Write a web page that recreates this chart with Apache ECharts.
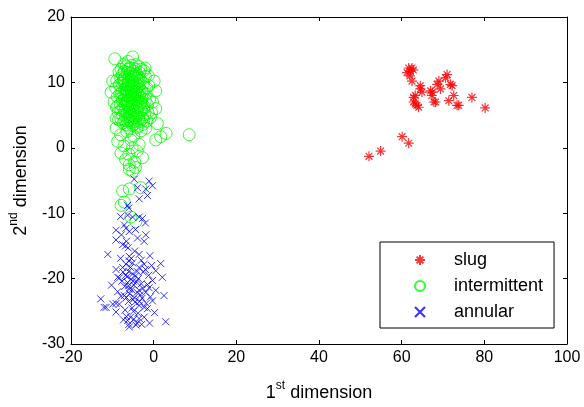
<!DOCTYPE html>
<html>
<head>
<meta charset="utf-8">
<script src="https://cdn.jsdelivr.net/npm/echarts@6/dist/echarts.min.js"></script>
<style>
  html, body { margin: 0; padding: 0; background: #fff; }
  #main { width: 584px; height: 407px; }
</style>
</head>
<body>
<div id="main"></div>
<script>
// axis ticks
var xTicks = { min: -20, max: 100, step: 20 };
var yTicks = { min: -30, max: 20, step: 10 };

var seriesNames = ['slug', 'intermittent', 'annular'];

// slug (red stars)
var slugData = [
  [61.7, 12.2], [62.5, 12.2], [61.3, 11.5], [62.1, 11.7], [62.8, 11.9], [62.0, 11.0],
  [62.5, 10.2], [64.5, 9.5], [64.5, 9.0], [64.9, 8.5], [63.3, 8.0], [62.9, 7.7],
  [62.9, 7.0], [63.3, 6.7], [63.7, 6.5], [64.1, 6.2], [67.0, 8.7], [67.4, 8.5],
  [67.3, 8.0], [67.8, 7.0], [68.2, 7.0], [69.0, 10.2], [68.6, 9.7], [69.4, 9.0],
  [71.0, 11.2], [70.6, 10.7], [71.8, 9.7], [72.2, 9.5], [72.6, 8.0], [71.4, 7.2],
  [73.4, 6.5], [73.8, 6.5], [77.0, 7.7], [80.2, 6.1], [60.1, 1.7], [61.7, 0.7],
  [54.9, -0.5], [52.1, -1.3]
];

// intermittent (green circles)
var intermittentData = [
  [-9.4, 13.6], [-5.1, 13.9], [-6.2, 13.2], [-7.9, 12.0], [-4.3, 12.7], [-7.1, 11.7],
  [-9.9, 10.2], [-10.3, 8.5], [0.1, 10.2], [0.5, 8.7], [0.5, 6.0], [8.6, 2.0],
  [3.0, 2.2], [1.7, 1.7], [0.5, 1.2], [0.9, 3.7], [-8.7, 1.0], [-7.9, -0.8],
  [-2.7, -1.5], [-5.9, -2.6], [-5.9, -3.3], [-9.1, 3.0], [-3.5, 0.5], [-9.1, 4.5],
  [-5.1, -3.6], [-7.5, -6.6], [-5.9, -6.3], [-3.1, -6.1], [-7.1, -8.3], [-7.9, -8.8],
  [-5.5, -10.6], [-4.3, -11.3],
  [-6.5, 2.5], [-4.8, 1.8], [-7.2, 0.3], [-5.2, 0.0], [-4.0, -0.5], [-6.8, -1.8],
  [-4.6, -2.2], [-5.5, 1.2], [-3.0, 2.6], [-8.0, 2.0], [-6.0, -1.0], [-4.4, -3.0],
  [-6.1, 7.2], [-5.4, 8.1], [-4.8, 6.5], [-6.7, 9.0], [-5.9, 10.3], [-4.2, 7.8],
  [-7.3, 6.1], [-3.6, 9.4], [-5.0, 11.2], [-6.4, 5.3], [-4.5, 4.6], [-7.8, 8.4],
  [-3.2, 6.9], [-5.7, 6.0], [-6.9, 10.8], [-4.0, 10.6], [-5.2, 9.5], [-6.3, 8.6],
  [-7.1, 7.4], [-3.9, 8.3], [-4.7, 5.6], [-5.5, 4.2], [-6.8, 4.8], [-2.8, 7.6],
  [-2.5, 9.9], [-8.3, 9.6], [-8.1, 6.7], [-7.6, 11.2], [-3.4, 11.5], [-5.8, 12.2],
  [-4.4, 12.0], [-6.6, 12.5], [-2.2, 5.1], [-8.6, 5.4], [-1.8, 8.2], [-2.0, 10.9],
  [-7.4, 3.8], [-3.3, 4.0], [-5.1, 3.4], [-6.0, 3.0], [-4.1, 3.1], [-2.6, 3.6],
  [-8.8, 7.8], [-9.2, 9.1], [-1.5, 6.6], [-1.2, 9.5], [-5.3, 7.0], [-4.9, 8.8],
  [-6.2, 6.6], [-5.6, 9.0], [-4.3, 9.8], [-6.5, 7.9], [-3.7, 7.2], [-7.0, 8.9],
  [-5.0, 5.8], [-4.6, 7.4], [-5.8, 8.4], [-6.1, 10.0], [-3.8, 5.4], [-7.5, 5.0],
  [-2.9, 8.7], [-4.0, 6.1], [-5.4, 10.7], [-6.9, 6.3], [-3.1, 10.3], [-7.7, 9.9],
  [-5.9, 4.8], [-4.7, 4.0], [-6.4, 11.5], [-4.9, 11.7], [-3.5, 12.4], [-7.2, 12.8],
  [-2.4, 11.8], [-8.0, 10.7], [-1.0, 7.4], [-0.8, 4.6], [-1.6, 4.1], [-2.3, 6.3],
  [-8.5, 4.3], [-9.0, 6.2], [-6.3, 4.1], [-5.2, 6.4], [-4.4, 8.6], [-5.7, 7.6],
  [-6.8, 8.0], [-3.4, 8.0], [-4.1, 9.2], [-6.0, 9.4], [-5.1, 9.9], [-7.4, 10.2],
  [-3.0, 5.8], [-2.7, 4.5], [-5.5, 5.0], [-4.8, 3.6], [-6.6, 3.5], [-7.9, 4.4],
  [-3.8, 3.3], [-1.9, 3.0], [-0.5, 5.4], [-0.3, 7.0], [-1.3, 11.0], [-9.6, 7.0],
  [-8.4, 11.6], [-2.1, 12.2], [-5.3, 12.6],
  [-5.0, 7.5], [-4.5, 8.2], [-5.5, 6.8], [-6.0, 8.0], [-4.0, 7.0], [-5.2, 8.6],
  [-4.8, 9.3], [-6.3, 7.3], [-3.5, 6.4], [-5.8, 5.5], [-4.3, 5.2], [-6.6, 6.9],
  [-3.3, 8.9], [-7.2, 8.1], [-5.3, 10.2], [-4.6, 10.9], [-6.2, 9.7], [-3.9, 9.9],
  [-5.6, 11.4], [-4.2, 11.3], [-6.9, 9.6], [-2.6, 8.4], [-7.6, 7.2], [-3.0, 7.1],
  [-5.0, 4.4], [-6.0, 4.3], [-4.0, 4.8], [-5.4, 3.8], [-3.6, 4.5], [-6.9, 5.6],
  [-7.0, 4.2], [-2.4, 6.0], [-5.9, 6.2], [-4.4, 6.8], [-5.1, 7.9], [-6.7, 8.5],
  [-4.7, 9.6], [-3.6, 10.8], [-5.9, 11.0], [-7.2, 10.5], [-8.2, 8.2], [-7.9, 5.8],
  [-2.0, 7.3], [-1.7, 9.2], [-3.1, 12.0], [-6.2, 12.0], [-8.9, 10.3], [-8.7, 6.3],
  [-2.4, 4.2], [-1.4, 5.4]
];

// annular (blue crosses)
var annularData = [
  [-4.7, -4.8], [-1.1, -5.1], [-0.3, -5.8], [-3.9, -6.1], [-1.9, -6.3], [-1.5, -7.3],
  [-3.5, -7.8], [-6.3, -8.8], [-6.0, -9.2], [-6.3, -10.3], [-5.1, -10.6], [-3.5, -10.6],
  [-2.7, -10.8], [-7.1, -11.8], [-6.7, -12.3], [-9.1, -12.6], [-5.9, -12.8], [-1.9, -13.3],
  [-11.1, -16.3], [-9.1, -14.1], [-7.5, -14.8], [-6.8, -15.0], [-3.9, -13.8], [-2.3, -14.3],
  [1.7, -17.7], [-5.9, -16.6], [-3.5, -16.3], [2.1, -19.8], [2.5, -22.6], [-12.8, -23.1],
  [-11.5, -24.4], [-9.9, -23.9], [-9.1, -25.1], [-8.3, -23.9], [2.9, -26.6], [-6.3, -26.4],
  [-5.9, -27.4], [-4.3, -27.1], [-3.5, -26.1], [-2.3, -25.9], [-6.6, -25.8], [-1.5, -24.6],
  [-3.5, -24.1], [-0.3, -23.4], [-7.1, -22.6], [-4.7, -22.9], [-1.9, -22.1], [0.5, -21.8],
  [-1.1, -21.4], [-0.3, -20.3], [0.5, -18.8], [-8.3, -19.9], [-6.3, -20.6], [-7.5, -18.3],
  [-5.1, -19.3], [-3.5, -18.3], [-6.7, -17.8], [-5.1, -17.6], [-2.3, -17.8], [-9.1, -18.6],
  [-5.9, -21.6], [-3.5, -21.8], [-8.7, -19.8], [-12.0, -24.4], [-9.1, -23.8],
  [-6.0, -18.9], [-5.5, -20.1], [-4.8, -21.0], [-6.8, -19.5], [-4.2, -20.5], [-5.8, -22.3],
  [-3.0, -20.8], [-2.5, -19.0], [-1.5, -20.9], [-7.0, -21.2], [-4.5, -23.6], [-2.8, -23.0],
  [-5.2, -24.5], [-6.1, -23.5], [-7.7, -20.4], [-4.0, -18.9], [-5.4, -16.9], [-6.4, -19.7],
  [-3.2, -22.5], [-0.8, -22.8], [-1.8, -23.8], [-2.0, -18.6], [-4.9, -25.0], [-6.9, -24.8],
  [-3.8, -25.3], [-5.6, -25.9], [-4.1, -26.8], [-2.9, -27.0], [-7.3, -26.3], [-4.6, -15.8],
  [-6.2, -15.3], [-8.0, -16.9], [-0.9, -16.5], [0.2, -25.2], [-1.0, -26.8], [-8.7, -22.0],
  [-10.2, -21.0], [-6.6, -14.3], [-4.4, -12.5], [-2.0, -11.5], [-8.0, -10.5], [-7.8, -13.3],
  [-5.0, -20.4], [-4.4, -19.6], [-6.1, -21.1], [-3.7, -20.0], [-5.6, -18.3], [-2.6, -21.5],
  [-4.0, -22.1], [-6.6, -22.9], [-5.0, -23.2], [-3.4, -23.5], [-7.4, -19.0], [-1.2, -19.5],
  [-2.3, -24.4], [-4.8, -26.2], [-6.0, -27.0], [-0.5, -18.0], [-3.0, -17.2], [-6.0, -17.3],
  [-7.9, -22.7], [-5.3, -21.7]
];

var starPath = 'path://M5 0L5 10M0 5L10 5M1.6 1.6L8.4 8.4M8.4 1.6L1.6 8.4';
var crossPath = 'path://M0 0L10 10M10 0L0 10';

var myChart = echarts.init(document.getElementById('main'));

var tickLabel = { color: '#000', fontSize: 16, fontFamily: 'Liberation Sans' };
var axisLineStyle = { color: '#000', width: 1 };

function xAxisCfg(pos, showLabel) {
  return {
    type: 'value', position: pos,
    min: xTicks.min, max: xTicks.max, interval: xTicks.step,
    axisLine: { show: true, onZero: false, lineStyle: axisLineStyle },
    axisTick: { show: true, inside: true, length: 4, lineStyle: axisLineStyle },
    axisLabel: Object.assign({ show: showLabel, margin: 6 }, tickLabel),
    splitLine: { show: false }
  };
}
function yAxisCfg(pos, showLabel) {
  return {
    type: 'value', position: pos,
    min: yTicks.min, max: yTicks.max, interval: yTicks.step,
    axisLine: { show: true, onZero: false, lineStyle: axisLineStyle },
    axisTick: { show: true, inside: true, length: 4, lineStyle: axisLineStyle },
    axisLabel: Object.assign({ show: showLabel, margin: 6 }, tickLabel),
    splitLine: { show: false }
  };
}

var nameStyle = {
  rich: {
    b: { fontSize: 18, fontFamily: 'Liberation Sans', color: '#000', lineHeight: 22, verticalAlign: 'bottom' },
    s: { fontSize: 12, fontFamily: 'Liberation Sans', color: '#000', lineHeight: 22, verticalAlign: 'top' }
  }
};

var xBottom = xAxisCfg('bottom', true);
xBottom.name = '{b|1}{s|st}{b| dimension}';
xBottom.nameLocation = 'middle';
xBottom.nameGap = 36;
xBottom.nameTextStyle = nameStyle;

var yLeft = yAxisCfg('left', true);
yLeft.name = '{b|2}{s|nd}{b| dimension}';
yLeft.nameLocation = 'middle';
yLeft.nameGap = 41;
yLeft.nameTextStyle = nameStyle;

myChart.setOption({
  animation: false,
  backgroundColor: '#fff',
  grid: { left: 70, right: 17, top: 17, bottom: 58 },
  xAxis: [xBottom, xAxisCfg('top', false)],
  yAxis: [yLeft, yAxisCfg('right', false)],
  legend: {
    data: seriesNames,
    orient: 'vertical',
    left: 380, top: 242,
    backgroundColor: '#fff',
    borderColor: '#000', borderWidth: 1, borderRadius: 0,
    padding: [9, 11, 7, 34],
    itemGap: 8,
    itemWidth: 58, itemHeight: 10,
    textStyle: { fontSize: 18, fontFamily: 'Liberation Sans', color: '#000' }
  },
  series: [
    {
      name: seriesNames[0], type: 'scatter', data: slugData,
      symbol: starPath, symbolSize: 10,
      itemStyle: { color: 'transparent', borderColor: '#ff0000', borderWidth: 1.2 }
    },
    {
      name: seriesNames[1], type: 'scatter', data: intermittentData,
      symbol: 'circle', symbolSize: 12,
      itemStyle: { color: 'transparent', borderColor: '#00ff00', borderWidth: 1 }
    },
    {
      name: seriesNames[2], type: 'scatter', data: annularData,
      symbol: crossPath, symbolSize: 7,
      itemStyle: { color: 'transparent', borderColor: '#0000ff', borderWidth: 1 }
    }
  ]
});
</script>
</body>
</html>
